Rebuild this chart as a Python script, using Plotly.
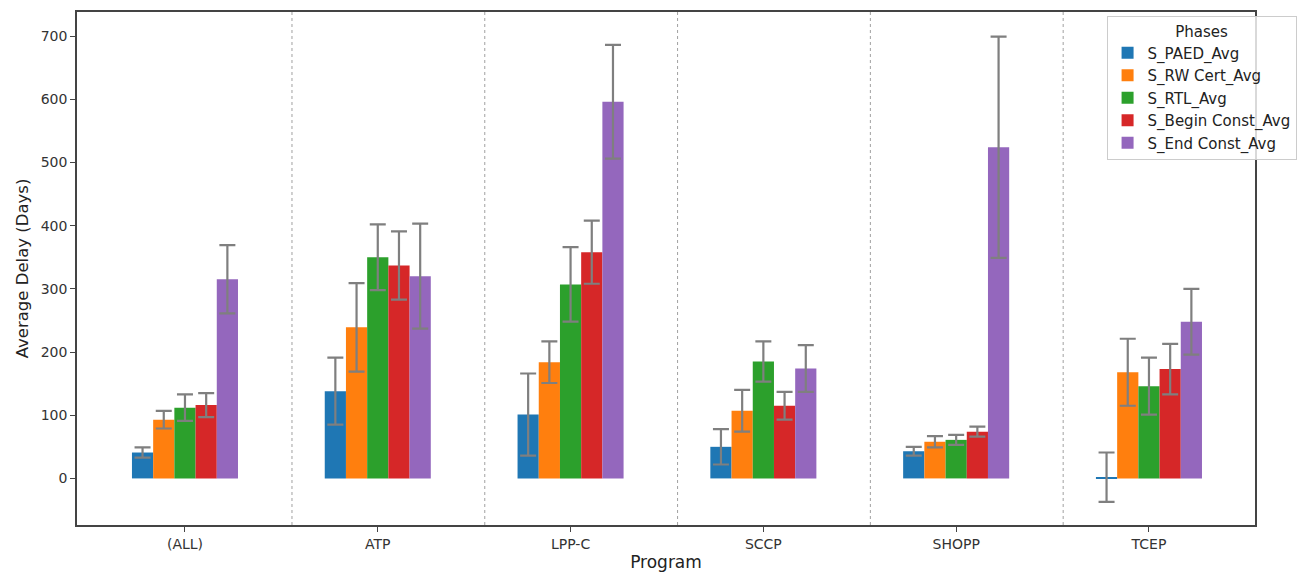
import plotly.graph_objects as go

programs = ["(ALL)", "ATP", "LPP-C", "SCCP", "SHOPP", "TCEP"]
phases = ["S_PAED_Avg", "S_RW Cert_Avg", "S_RTL_Avg", "S_Begin Const_Avg", "S_End Const_Avg"]
colors = ["#1f77b4", "#ff7f0e", "#2ca02c", "#d62728", "#9467bd"]

paed_avg = [41, 138, 101, 50, 43, 2]
paed_err = [8, 53, 65, 28, 7, 39]
rw_avg = [93, 239, 184, 107, 58, 168]
rw_err = [14, 70, 33, 33, 9, 53]
rtl_avg = [112, 350, 307, 185, 61, 146]
rtl_err = [21, 52, 59, 32, 8, 45]
begin_avg = [116, 337, 358, 115, 74, 173]
begin_err = [19, 54, 50, 22, 8, 40]
end_avg = [315, 320, 596, 174, 524, 248]
end_err = [54, 83, 90, 37, 175, 52]

avgs = [paed_avg, rw_avg, rtl_avg, begin_avg, end_avg]
errs = [paed_err, rw_err, rtl_err, begin_err, end_err]

fig = go.Figure()
for name, c, a, e in zip(phases, colors, avgs, errs):
    fig.add_trace(go.Bar(
        x=programs, y=a, name=name,
        marker=dict(color=c, line=dict(width=0)),
        error_y=dict(type="data", array=e, visible=True, color="#7f7f7f", thickness=2.2, width=8),
    ))

shapes = []
for i in range(len(programs) - 1):
    shapes.append(dict(type="line", xref="x", yref="paper", x0=i + 0.555, x1=i + 0.555, y0=0, y1=1,
                       line=dict(color="#a0a0a0", width=1, dash="dot"), layer="below"))

font = "DejaVu Sans, Arial, sans-serif"
fig.update_layout(
    width=1308, height=579,
    margin=dict(l=77, r=53, t=10, b=51),
    paper_bgcolor="white", plot_bgcolor="white",
    barmode="group", bargap=0.45, bargroupgap=0,
    font=dict(family=font, size=14, color="#333333"),
    shapes=shapes,
    xaxis=dict(
        range=[-0.56, 5.55], showgrid=False, zeroline=False,
        showline=True, linecolor="#444444", linewidth=1.5, mirror=True,
        ticks="outside", ticklen=5, tickcolor="#444444",
        title=dict(text="Program", font=dict(size=17, color="#222222"), standoff=6),
        tickfont=dict(size=14, color="#333333"),
    ),
    yaxis=dict(
        range=[-73.7, 738], showgrid=False, zeroline=False,
        showline=True, linecolor="#444444", linewidth=1.5, mirror=True,
        ticks="outside", ticklen=5, tickcolor="#444444",
        tickvals=[0, 100, 200, 300, 400, 500, 600, 700],
        title=dict(text="Average Delay (Days)", font=dict(size=16.5, color="#222222"), standoff=8),
        tickfont=dict(size=14, color="#333333"),
    ),
    legend=dict(
        x=0.874, y=0.992, xanchor="left", yanchor="top",
        bgcolor="rgba(255,255,255,0.8)", bordercolor="#cccccc", borderwidth=1,
        title=dict(text="Phases", side="top center", font=dict(size=15)),
        font=dict(size=15, color="#222222"),
        itemsizing="constant",
    ),
)

fig.write_html("out.html")
